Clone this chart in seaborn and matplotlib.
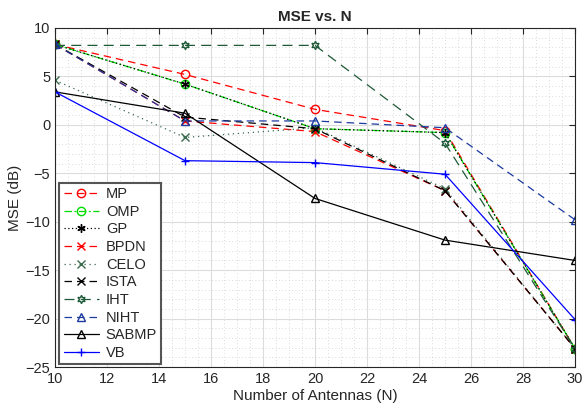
import numpy as np
import pandas as pd
import matplotlib
matplotlib.use('Agg')
import matplotlib.pyplot as plt
import seaborn as sns
from matplotlib.ticker import MultipleLocator

N = [10, 15, 20, 25, 30]

mp = [8.3, 5.2, 1.6, -0.6, -23.1]
omp = [8.3, 4.2, -0.4, -0.8, -23.1]
gp = [8.3, 4.2, -0.4, -0.8, -23.1]
bpdn = [8.3, 0.4, -0.7, -6.8, -23.1]
celo = [4.6, -1.3, -0.3, -6.6, -23.1]
ista = [8.3, 0.8, -0.4, -6.8, -23.1]
iht = [8.2, 8.2, 8.2, -1.9, -23.1]
niht = [8.3, 0.4, 0.4, -0.3, -9.8]
sabmp = [3.4, 1.2, -7.6, -11.9, -14.0]
vb = [3.4, -3.7, -3.9, -5.1, -20.1]

series = [
    ('MP', mp, 'red', (0, (6, 4)), 'o'),
    ('OMP', omp, '#00dd00', (0, (6, 2, 1.5, 2)), 'o'),
    ('GP', gp, 'black', (0, (1, 2)), (6, 2, 0)),
    ('BPDN', bpdn, 'red', (0, (6, 4)), 'x'),
    ('CELO', celo, '#3a6b4e', (0, (1, 3)), 'x'),
    ('ISTA', ista, 'black', (0, (6, 4)), 'x'),
    ('IHT', iht, '#1f5a38', (0, (8, 5)), (6, 1, 0)),
    ('NIHT', niht, '#1c3aa0', (0, (6, 4)), '^'),
    ('SABMP', sabmp, 'black', '-', '^'),
    ('VB', vb, 'blue', '-', '+'),
]

sns.set_style('white')
plt.rcParams['font.family'] = ['Liberation Sans', 'DejaVu Sans']

fig = plt.figure(figsize=(5.82, 4.11), dpi=100)
ax = fig.add_axes([0.0945, 0.107, 0.8935, 0.825])

for name, vals, color, ls, mk in series:
    sns.lineplot(x=N, y=vals, ax=ax, color=color, linestyle=ls, marker=mk,
                 markersize=6, markerfacecolor='none', markeredgecolor=color,
                 markeredgewidth=1.0, linewidth=0.9, label=name)

ax.set_xlim(10, 30)
ax.set_ylim(-25, 10)
ax.xaxis.set_major_locator(MultipleLocator(2))
ax.xaxis.set_minor_locator(MultipleLocator(0.5))
ax.yaxis.set_major_locator(MultipleLocator(5))
ax.yaxis.set_minor_locator(MultipleLocator(1))
ax.grid(which='major', color='#dcdcdc', linewidth=0.8, linestyle='-')
ax.grid(which='minor', color='#cfcfcf', linewidth=0.6, linestyle=(0, (1, 3)))
ax.tick_params(which='both', direction='in', top=True, right=True, labelsize=10.5,
               colors='#262626', length=4)
ax.tick_params(which='minor', length=0)
for s in ax.spines.values():
    s.set_color('#262626')
    s.set_linewidth(0.8)

ax.set_xlabel('Number of Antennas (N)', fontsize=11, color='#262626', labelpad=2)
ax.set_ylabel('MSE (dB)', fontsize=11, color='#262626', labelpad=2)
ax.set_title('MSE vs. N', fontsize=11, fontweight='bold', pad=5)

leg = ax.legend(loc='lower left', bbox_to_anchor=(0.008, 0.008), fontsize=10.5,
                frameon=True, fancybox=False, edgecolor='#555555', framealpha=1,
                handlelength=2.4, labelspacing=0.25, borderpad=0.3,
                handletextpad=0.5, borderaxespad=0.0)
leg.get_frame().set_linewidth(1.5)

fig.savefig('out.png', dpi=100)
